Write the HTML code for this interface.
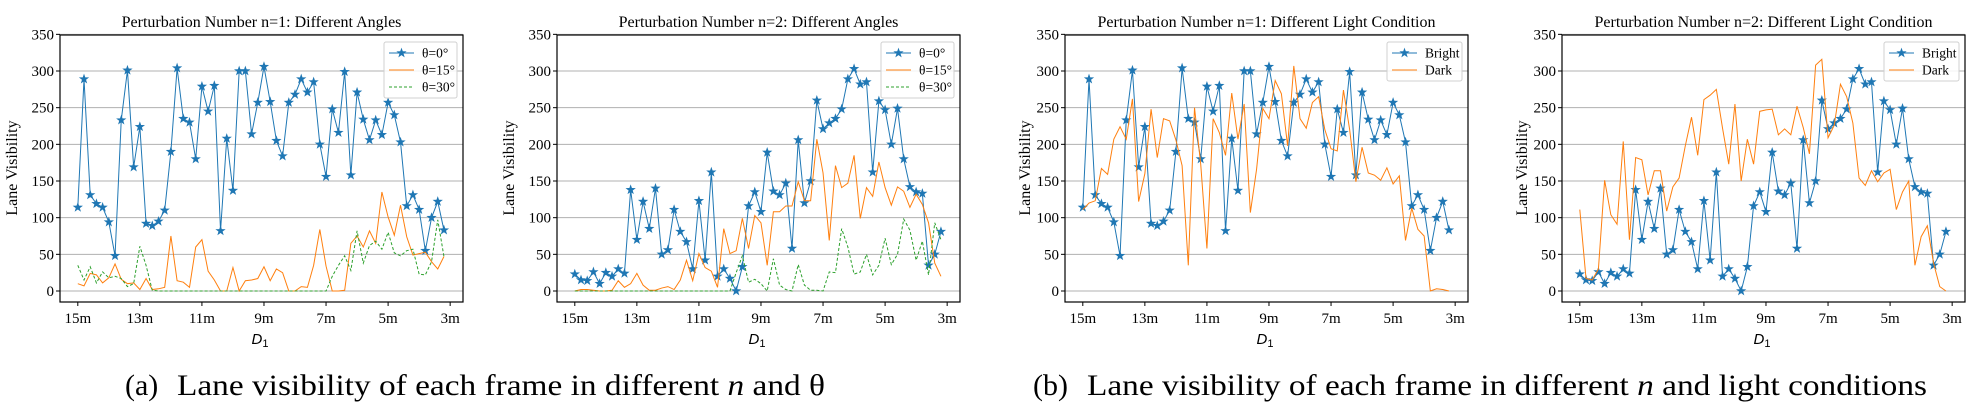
<!DOCTYPE html>
<html><head><meta charset="utf-8"><style>
html,body{margin:0;padding:0;background:#fff;}
svg{display:block;font-family:"Liberation Serif",serif;}
</style></head><body>
<svg id="fig" width="1987" height="414" viewBox="0 0 1987 414" xmlns="http://www.w3.org/2000/svg">
<g>
<text x="125" y="395" font-size="30">(a)</text>
<text x="177" y="395" font-size="30" textLength="648" lengthAdjust="spacingAndGlyphs">Lane visibility of each frame in different <tspan font-style="italic">n</tspan> and θ</text>
</g>
<g>
<text x="1033" y="395" font-size="30">(b)</text>
<text x="1087" y="395" font-size="30" textLength="840" lengthAdjust="spacingAndGlyphs">Lane visibility of each frame in different <tspan font-style="italic">n</tspan> and light conditions</text>
</g>
</svg>
<script>
const blueN1=[114,289,131,119,114,94,48,233,301,169,224,92,89,95,110,190,304,235,230,180,279,245,280,82,208,137,300,300,214,257,306,258,205,184,257,268,289,271,285,200,156,248,216,299,158,271,234,206,233,213,257,240,203,116,131,111,55,100,122,83];
const orangeA1=[10,7,24,22,11,18,37,16,10,11,2,17,2,3,5,75,14,12,5,60,70,27,15,0,0,32,0,14,15,17,33,14,30,25,0,0,6,5,35,84,34,0,0,1,65,75,60,82,65,135,101,76,117,74,49,51,53,40,30,47];
const greenA1=[35,15,33,11,26,18,20,17,6,10,61,35,1,0,0,0,0,0,0,0,0,0,0,0,0,0,0,0,0,0,0,0,0,0,0,0,0,0,0,0,0,20,35,48,28,82,38,62,68,57,80,52,48,55,57,23,22,40,97,47];
const blueN2=[23,15,14,26,10,25,20,30,24,138,70,122,85,140,50,56,111,81,67,30,123,42,162,20,30,17,0,33,116,135,108,189,136,131,147,58,206,120,150,260,221,229,235,248,289,303,282,285,162,259,247,200,249,180,142,135,133,35,50,81];
const orangeA2=[0,2,2,1,0,0,1,14,5,10,24,8,1,1,4,6,2,15,42,14,51,32,27,5,85,51,55,99,58,103,93,35,108,108,116,116,149,123,123,207,161,69,171,141,147,185,99,141,129,176,141,117,142,136,114,132,118,93,38,20];
const greenA2=[0,0,0,0,0,0,0,0,0,0,0,0,0,0,0,0,0,0,0,0,0,0,0,0,0,0,25,48,12,16,10,0,44,8,2,0,36,8,1,1,0,26,25,85,60,23,26,50,22,35,72,36,50,98,83,42,68,22,93,70];
const darkN1=[111,120,123,167,159,207,224,207,262,122,160,248,182,235,232,206,171,35,250,173,58,235,216,185,270,207,255,107,166,249,235,287,269,198,307,235,222,257,265,220,194,191,274,220,149,196,161,158,151,168,146,157,69,113,84,75,0,3,2,0];
const darkN2=[111,17,15,30,151,104,91,204,70,182,179,131,164,164,109,142,154,198,237,185,261,267,275,222,173,255,150,207,173,245,247,248,213,221,213,252,223,187,308,316,209,226,282,265,229,154,144,164,149,161,166,111,135,150,35,74,89,38,6,0];
const yTicks=[0,50,100,150,200,250,300,350];
const xTicks=[15,13,11,9,7,5,3];
const xTickLabels=["15m","13m","11m","9m","7m","5m","3m"];
const titles=["Perturbation Number n=1: Different Angles","Perturbation Number n=2: Different Angles","Perturbation Number n=1: Different Light Condition","Perturbation Number n=2: Different Light Condition"];
const legA=["θ=0°","θ=15°","θ=30°"];
const legB=["Bright","Dark"];

const NS="http://www.w3.org/2000/svg";
const svg=document.getElementById('fig');
function mk(tag,attrs,parent){const e=document.createElementNS(NS,tag);for(const k in attrs)e.setAttribute(k,attrs[k]);(parent||svg).appendChild(e);return e;}
const BLUE="#1f77b4",ORANGE="#ff7f0e",GREEN="#2ca02c";
function starPath(cx,cy,r){let d="";for(let i=0;i<10;i++){const a=-Math.PI/2+i*Math.PI/5;const rr=i%2?r*0.4:r;d+=(i?"L":"M")+(cx+rr*Math.cos(a)).toFixed(2)+","+(cy+rr*Math.sin(a)).toFixed(2);}return d+"Z";}

function panel(idx,left,seriesList,legLabels,legW,yLabelX){
  const g=mk('g',{});
  
  
  const W=403,top=35,bottom=302;
  const x15=left+17.8,pxm=31.03;
  const xs=d=>x15+(15-d)*pxm;
  const ys=v=>291-v*0.7333;
  yTicks.forEach(t=>{
    const l=mk('line',{x1:left,x2:left+W,y1:ys(t),y2:ys(t),stroke:"#b0b0b0","stroke-width":1},g);
    
    
    const tk=mk('line',{x1:left-4,x2:left,y1:ys(t),y2:ys(t),stroke:"#000","stroke-width":1},g);
    
    
    const tx=mk('text',{x:left-6,y:ys(t)+5,"font-size":15,"text-anchor":"end"},g);
    tx.textContent=t;
    
    
  });
  xTicks.forEach((d,i)=>{
    const tk=mk('line',{x1:xs(d),x2:xs(d),y1:bottom,y2:bottom+4,stroke:"#000","stroke-width":1},g);
    
    
    const tx=mk('text',{x:xs(d),y:bottom+21,"font-size":15,"text-anchor":"middle"},g);
    tx.textContent=xTickLabels[i];
    
    
  });
  seriesList.forEach((s,si)=>{
    const pts=s.data.map((v,i)=>xs(15-0.2*i).toFixed(2)+","+ys(v).toFixed(2)).join(" ");
    const pl=mk('polyline',{points:pts,fill:"none",stroke:s.color,"stroke-width":1,"stroke-dasharray":s.dash||"none"},g);
    
    
    if(s.star){
      s.data.forEach((v,i)=>{
        const p=mk('path',{d:starPath(xs(15-0.2*i),ys(v),5.4),fill:s.color},g);
        
        
      });
    }
  });
  const fr=mk('rect',{x:left,y:top,width:W,height:bottom-top,fill:"none",stroke:"#000","stroke-width":1.2},g);
  
  
  const ti=mk('text',{x:left+W/2,y:27,"font-size":16,"text-anchor":"middle"},g);
  ti.textContent=titles[idx];
  
  
  const yl=mk('text',{x:yLabelX,y:168,"font-size":16,"text-anchor":"middle",transform:"rotate(-90 "+yLabelX+" 168)"},g);
  yl.textContent="Lane Visibility";
  
  
  const xl=mk('text',{x:left+W/2-10,y:344,"font-size":15,"font-style":"italic","font-family":"Liberation Sans, sans-serif"},g);
  xl.innerHTML='D<tspan font-size="11" dy="3" font-style="normal">1</tspan>';
  
  
  const lx=left+W-6-legW,ly=42,lh=legLabels.length*17+5;
  const lg=mk('g',{},g);
  
  
  mk('rect',{x:lx,y:ly,width:legW,height:lh,rx:2,fill:"#fff","fill-opacity":0.85,stroke:"#d0d0d0"},lg);
  legLabels.forEach((lab,i)=>{
    const s=seriesList[i];const cy=ly+11+i*17;
    const e=mk('g',{},lg);
    
    
    mk('line',{x1:lx+5,x2:lx+30,y1:cy,y2:cy,stroke:s.color,"stroke-width":1,"stroke-dasharray":s.dash||"none"},e);
    if(s.star)mk('path',{d:starPath(lx+17.5,cy,5.4),fill:s.color},e);
    const t=mk('text',{x:lx+38,y:cy+4.5,"font-size":13.5},e);
    t.textContent=lab;
  });
}
panel(0,60,[{name:"theta-0",data:blueN1,color:BLUE,star:true},{name:"theta-15",data:orangeA1,color:ORANGE},{name:"theta-30",data:greenA1,color:GREEN,dash:"3,2"}],legA,73,17);
panel(1,557,[{name:"theta-0",data:blueN2,color:BLUE,star:true},{name:"theta-15",data:orangeA2,color:ORANGE},{name:"theta-30",data:greenA2,color:GREEN,dash:"3,2"}],legA,73,514);
panel(2,1065,[{name:"bright",data:blueN1,color:BLUE,star:true},{name:"dark",data:darkN1,color:ORANGE}],legB,75,1030);
panel(3,1562,[{name:"bright",data:blueN2,color:BLUE,star:true},{name:"dark",data:darkN2,color:ORANGE}],legB,75,1527);
</script>
</body></html>
